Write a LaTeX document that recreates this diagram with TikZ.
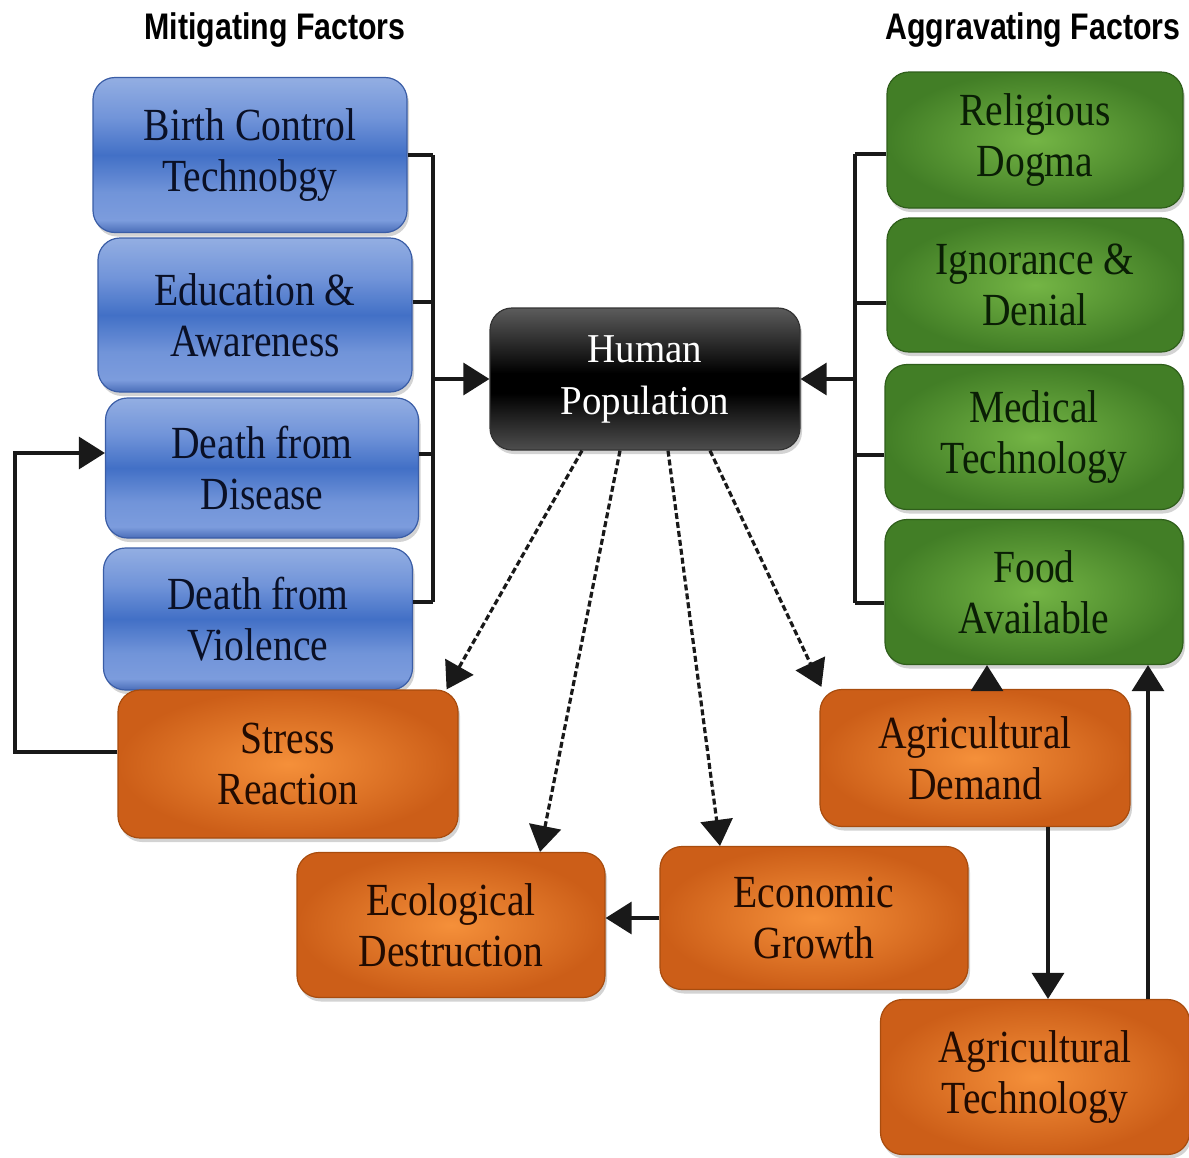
\documentclass[tikz,border=0pt]{standalone}
\usepackage{fontspec}
\setmainfont{Liberation Serif}
\newfontfamily\boxfont{Liberation Serif}[FakeStretch=0.86]
\newfontfamily\hpfont{Liberation Serif}[FakeStretch=0.95]
\newfontfamily\titlefont{Liberation Sans}[FakeStretch=0.82]
\usetikzlibrary{arrows.meta,shadows}

\definecolor{bT}{HTML}{93AEE2}
\definecolor{bL}{HTML}{7194D9}
\definecolor{bM}{HTML}{4270C6}
\definecolor{bL2}{HTML}{7C9CDD}
\definecolor{bB}{HTML}{4A6DB8}
\definecolor{bEdge}{HTML}{3A5DA6}
\definecolor{bText}{HTML}{0A1026}
\definecolor{gIn}{HTML}{74B545}
\definecolor{gOut}{HTML}{427E26}
\definecolor{gEdge}{HTML}{2F5E1B}
\definecolor{gText}{HTML}{0A1E05}
\definecolor{oIn}{HTML}{F5903A}
\definecolor{oOut}{HTML}{CC5E18}
\definecolor{oEdge}{HTML}{A84C0E}
\definecolor{oText}{HTML}{220B01}
\definecolor{kT}{HTML}{5C5C5C}
\definecolor{kB}{HTML}{4E4E4E}
\definecolor{kEdge}{HTML}{333333}

\pgfdeclareverticalshading{bluegloss}{100bp}{color(0bp)=(bB); color(25bp)=(bB); color(29bp)=(bL2); color(38bp)=(bL); color(50bp)=(bM); color(62bp)=(bL); color(75bp)=(bT); color(100bp)=(bT)}
\pgfdeclareverticalshading{blackgloss}{100bp}{color(0bp)=(kB); color(25bp)=(kB); color(45bp)=(black); color(52bp)=(black); color(75bp)=(kT); color(100bp)=(kT)}

\tikzset{
  box/.style={rounded corners=22pt, align=center, inner sep=0pt, line width=1.2pt,
    drop shadow={shadow xshift=2pt, shadow yshift=-4pt, opacity=0.35}},
  bluebox/.style={box, shade, shading=bluegloss, draw=bEdge, text=bText,
    font=\boxfont\fontsize{46}{51}\selectfont},
  greenbox/.style={box, shade, inner color=gIn, outer color=gOut, draw=gEdge, text=gText,
    font=\boxfont\fontsize{46}{51}\selectfont},
  orangebox/.style={box, shade, inner color=oIn, outer color=oOut, draw=oEdge, text=oText,
    font=\boxfont\fontsize{46}{51}\selectfont},
  blackbox/.style={box, shade, shading=blackgloss, draw=kEdge, text=white,
    font=\hpfont\fontsize{41}{52}\selectfont},
  title/.style={font=\titlefont\bfseries\fontsize{37}{40}\selectfont, text=black},
  conn/.style={line width=3.2pt, draw=black!90},
  arr/.style={conn, -{Triangle[length=26pt,width=32pt]}},
  dsh/.style={arr, dash pattern=on 6pt off 3pt},
}

\begin{document}
\begin{tikzpicture}[x=1pt, y=-1pt]
\useasboundingbox (0,0) rectangle (1189,1157);

% titles
\node[title] (t1) at (275,30) {Mitigating Factors};
\node[title] (t2) at (1033,30) {Aggravating Factors};

% blue boxes
\node[bluebox, minimum width=314pt, minimum height=155pt] (bc) at (250,155) {Birth Control\\Technobgy};
\node[bluebox, minimum width=314pt, minimum height=154pt] (ea) at (255,315) {Education \&\\Awareness};
\node[bluebox, minimum width=313pt, minimum height=140pt] (dd) at (262,468) {Death from\\Disease};
\node[bluebox, minimum width=309pt, minimum height=142pt] (dv) at (258,619) {Death from\\Violence};

% green boxes
\node[greenbox, minimum width=296pt, minimum height=136pt] (rd) at (1035,140) {Religious\\Dogma};
\node[greenbox, minimum width=296pt, minimum height=134pt] (id) at (1035,285) {Ignorance \&\\Denial};
\node[greenbox, minimum width=298pt, minimum height=145pt] (mt) at (1034,437) {Medical\\Technology};
\node[greenbox, minimum width=298pt, minimum height=145pt] (fa) at (1034,592) {Food\\Available};

% centre
\node[blackbox, minimum width=310pt, minimum height=142pt] (hp) at (645,379) {Human\\Population};

% orange boxes
\node[orangebox, minimum width=340pt, minimum height=148pt] (sr) at (288,764) {Stress\\Reaction};
\node[orangebox, minimum width=310pt, minimum height=137pt] (ad) at (975,758) {Agricultural\\Demand};
\node[orangebox, minimum width=308pt, minimum height=145pt] (ed) at (451,925) {Ecological\\Destruction};
\node[orangebox, minimum width=308pt, minimum height=143pt] (eg) at (814,918) {Economic\\Growth};
\node[orangebox, minimum width=309pt, minimum height=155pt] (at) at (1035,1077) {Agricultural\\Technology};

% left bracket
\coordinate (lx) at (433,379);
\coordinate (lxt) at (433,155);
\coordinate (lxb) at (433,602);
\draw[conn] (lxt) -- (lxb);
\draw[conn] (bc.east) -- (bc.east -| lx);
\draw[conn] (ea.east |- 0,302) -- (lx |- 0,302);
\draw[conn] (dd.east |- 0,454) -- (lx |- 0,454);
\draw[conn] (dv.east |- lxb) -- (lxb);
\draw[arr] (lx) -- (lx -| hp.west);

% right bracket
\coordinate (rx) at (855,379);
\coordinate (rxt) at (855,154);
\coordinate (rxb) at (855,603);
\draw[conn] (rxt) -- (rxb);
\draw[conn] (rd.west |- rxt) -- (rxt);
\draw[conn] (id.west |- 0,303) -- (rx |- 0,303);
\draw[conn] (mt.west |- 0,455) -- (rx |- 0,455);
\draw[conn] (fa.west |- rxb) -- (rxb);
\draw[arr] (rx) -- (rx -| hp.east);

% stress feedback loop
\coordinate (lp1) at (15,752);
\coordinate (lp2) at (15,453);
\draw[arr] (sr.west |- lp1) -- (lp1) -- (lp2) -- (dd.west |- lp2);

% dashed arrows from Human Population
\draw[dsh] ([xshift=-63pt]hp.south) -- ([xshift=-12pt]sr.north east);
\draw[dsh] ([xshift=-25pt]hp.south) -- ([xshift=89pt]ed.north);
\draw[dsh] ([xshift=23pt]hp.south) -- ([xshift=-94pt]eg.north);
\draw[dsh] ([xshift=65pt]hp.south) -- ([xshift=2pt,yshift=2pt]ad.north west);

% other arrows
\draw[arr] (eg.west) -- (eg.west -| ed.east);
\draw[arr] ([xshift=12pt]ad.north) -- ([xshift=12pt]ad.north |- fa.south);
\draw[arr] ([xshift=73pt]ad.south) -- ([xshift=73pt]ad.south |- at.north);
\draw[arr] ([xshift=113pt]at.north) -- ([xshift=113pt]at.north |- fa.south);
\end{tikzpicture}
\end{document}
